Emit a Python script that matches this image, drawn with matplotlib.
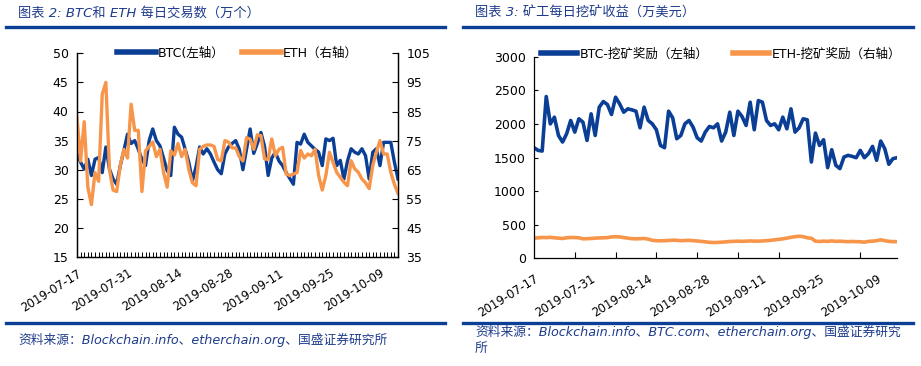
import numpy as np
import pandas as pd
import matplotlib
matplotlib.use("Agg")
import matplotlib.pyplot as plt
import matplotlib.dates as mdates
from matplotlib.lines import Line2D

plt.rcParams['font.family'] = ['DejaVu Sans', 'Noto Sans CJK SC']
plt.rcParams['axes.unicode_minus'] = False

# ---- data ----
dates = pd.date_range('2019-07-17', periods=90, freq='D')

btc_tx = [32.7, 31.3, 30.1, 31.8, 29.0, 31.8, 32.1, 29.5, 33.9, 30.1,
          28.4, 27.5, 30.7, 33.3, 36.1, 34.5, 35.0, 33.5, 31.8, 30.7,
          35.0, 37.0, 35.0, 34.1, 32.0, 29.8, 29.0, 37.3, 36.1, 35.6,
          33.5, 31.3, 28.1, 30.5, 33.9, 32.7, 33.6, 32.7, 31.3, 30.0,
          29.3, 32.7, 33.9, 34.5, 35.0, 33.5, 30.0, 33.5, 37.0, 32.8,
          34.5, 36.4, 34.0, 29.0, 32.0, 33.0, 31.5, 30.7, 29.5, 28.5,
          27.5, 34.7, 34.4, 36.1, 34.7, 34.1, 33.5, 33.0, 30.7, 35.3,
          35.0, 35.4, 30.7, 31.6, 28.4, 31.5, 33.6, 33.0, 32.7, 33.6,
          32.4, 28.4, 33.0, 33.6, 30.7, 34.7, 34.7, 34.7, 31.3, 28.4]

eth_tx = [83.0, 68.0, 81.5, 59.0, 53.0, 64.0, 61.0, 91.0, 95.0, 65.0,
          58.0, 57.5, 66.5, 72.0, 69.0, 87.5, 78.5, 78.5, 57.5, 71.5,
          73.0, 74.5, 69.5, 72.0, 64.0, 59.0, 71.5, 70.0, 74.0, 69.5,
          72.0, 65.0, 60.5, 59.5, 72.0, 73.0, 73.5, 73.5, 73.0, 68.5,
          68.0, 75.0, 74.5, 72.5, 72.5, 69.5, 68.0, 76.0, 75.5, 72.0,
          77.0, 76.7, 68.7, 68.5, 75.6, 69.8, 72.0, 72.7, 63.5, 63.0,
          63.5, 64.0, 71.6, 69.0, 70.4, 69.8, 72.0, 63.0, 58.0, 63.0,
          71.0, 67.5, 64.1, 62.4, 60.7, 59.5, 68.1, 65.3, 64.1, 61.8,
          60.5, 58.5, 66.4, 71.0, 75.0, 70.4, 70.4, 64.1, 60.0, 56.8]

btc_mining = [1646, 1606, 1596, 2407, 2000, 2100, 1828, 1730, 1853, 2051,
              1878, 2076, 2026, 1754, 2150, 1828, 2249, 2333, 2288, 2140,
              2397, 2298, 2174, 2224, 2209, 2189, 1942, 2249, 2051, 2001,
              1913, 1680, 1646, 2189, 2090, 1779, 1828, 2001, 2051, 1952,
              1794, 1745, 1878, 1962, 1942, 2001, 1745, 1878, 2174, 1828,
              2189, 2110, 1977, 2323, 1913, 2347, 2323, 2051, 1977, 2001,
              1913, 2100, 1927, 2224, 1878, 1942, 2076, 2061, 1433, 1863,
              1680, 1764, 1349, 1616, 1384, 1334, 1507, 1532, 1517, 1497,
              1606, 1497, 1557, 1665, 1458, 1745, 1631, 1399, 1483, 1497]

eth_mining = [300, 305, 310, 308, 312, 305, 300, 295, 305, 310,
              308, 305, 290, 292, 295, 300, 303, 305, 308, 318,
              322, 318, 308, 300, 292, 290, 292, 295, 285, 268,
              262, 260, 262, 265, 270, 268, 262, 265, 268, 262,
              258, 252, 245, 238, 235, 236, 240, 245, 250, 252,
              255, 252, 255, 258, 256, 255, 258, 262, 268, 275,
              282, 290, 300, 312, 322, 328, 322, 305, 298, 255,
              250, 255, 252, 258, 252, 255, 250, 248, 250, 248,
              246, 240, 252, 255, 262, 275, 262, 252, 248, 248]

BLUE = '#0B3F95'
ORANGE = '#F7964A'
TXT_BLUE = '#1F3C8C'

fig = plt.figure(figsize=(9.21, 3.66), dpi=100)
W, H = 921.0, 366.0


def fx(px):
    return px / W


def fy(py):
    return 1 - py / H


# header / footer decorations
fig.text(fx(18), fy(13), '图表 2: BTC和 ETH 每日交易数（万个）', fontsize=9.5,
         style='italic', color=TXT_BLUE, va='center', ha='left')
fig.text(fx(475), fy(13), '图表 3: 矿工每日挖矿收益（万美元）', fontsize=9.5,
         style='italic', color=TXT_BLUE, va='center', ha='left')
for x0, x1 in [(6, 445), (463, 913)]:
    for yy in (27, 323):
        fig.add_artist(Line2D([fx(x0), fx(x1)], [fy(yy), fy(yy)],
                              color='#0B3F95', lw=2.4))
fig.text(fx(18), fy(340), '资料来源：Blockchain.info、etherchain.org、国盛证券研究所',
         fontsize=9.2, style='italic', color=TXT_BLUE, va='center', ha='left')
fig.text(fx(475), fy(340), '资料来源：Blockchain.info、BTC.com、etherchain.org、国盛证券研究\n所',
         fontsize=9.2, style='italic', color=TXT_BLUE, va='center', ha='left',
         linespacing=1.25)

label_dates = dates[::14]
label_text = [d.strftime('%Y-%m-%d') for d in label_dates]

# ---- left chart: daily transactions ----
ax1 = fig.add_axes([fx(77), fy(257), fx(398) - fx(77), fy(53.3) - fy(257)])
ax2 = ax1.twinx()
l1, = ax1.plot(dates, btc_tx, color=BLUE, lw=2.4, label='BTC(左轴）')
l2, = ax2.plot(dates, eth_tx, color=ORANGE, lw=2.4, label='ETH（右轴）')
ax1.set_xlim(dates[0], dates[-1])
ax1.set_ylim(15, 50)
ax2.set_ylim(35, 105)
ax1.set_yticks(np.arange(15, 51, 5))
ax2.set_yticks(np.arange(35, 106, 10))
ax1.set_xticks(label_dates)
ax1.set_xticklabels(label_text, rotation=32, ha='right', rotation_mode='anchor', fontsize=8.5)
ax1.xaxis.set_minor_locator(mdates.DayLocator())
for a in (ax1, ax2):
    a.spines['top'].set_visible(False)
    for s in a.spines.values():
        s.set_linewidth(0.9)
ax1.tick_params(axis='y', direction='in', length=4, labelsize=9, pad=6)
ax2.tick_params(axis='y', direction='in', length=4, labelsize=9, pad=6)
ax1.tick_params(axis='x', which='both', direction='in', length=3.5, width=0.7, pad=7)
ax2.legend(handles=[l1, l2], loc='center', bbox_to_anchor=(0.5, 1.0), ncol=2,
           frameon=False, fontsize=9, handlelength=3.1, handletextpad=0.15,
           columnspacing=1.4, borderaxespad=0)
for leg_line in ax2.get_legend().get_lines():
    leg_line.set_linewidth(4)

# ---- right chart: mining revenue ----
ax3 = fig.add_axes([fx(534), fy(258.3), fx(897) - fx(534), fy(56.7) - fy(258.3)])
l3, = ax3.plot(dates, btc_mining, color=BLUE, lw=2.6, label='BTC-挖矿奖励（左轴）')
l4, = ax3.plot(dates, eth_mining, color=ORANGE, lw=2.6, label='ETH-挖矿奖励（右轴）')
ax3.set_xlim(dates[0], dates[-1])
ax3.set_ylim(0, 3000)
ax3.set_yticks(np.arange(0, 3001, 500))
ax3.set_xticks(label_dates)
ax3.set_xticklabels(label_text, rotation=32, ha='right', rotation_mode='anchor', fontsize=8.5)
ax3.set_xticks(dates[::10], minor=True)
ax3.spines['top'].set_visible(False)
ax3.spines['right'].set_visible(False)
for s in ax3.spines.values():
    s.set_linewidth(0.9)
ax3.tick_params(axis='y', direction='in', length=3, labelsize=9, pad=6)
ax3.tick_params(axis='x', which='major', length=0, pad=10)
ax3.tick_params(axis='x', which='minor', direction='in', length=4, width=0.8)
leg = ax3.legend(handles=[l3, l4], loc='center', bbox_to_anchor=(0.515, 1.013), ncol=2,
                 frameon=True, facecolor='white', edgecolor='none', framealpha=1,
                 fontsize=9, handlelength=2.9, handletextpad=0.15,
                 columnspacing=2.0, borderaxespad=0, borderpad=0.2)
for leg_line in leg.get_lines():
    leg_line.set_linewidth(4)

fig.savefig('out.png', dpi=100)
